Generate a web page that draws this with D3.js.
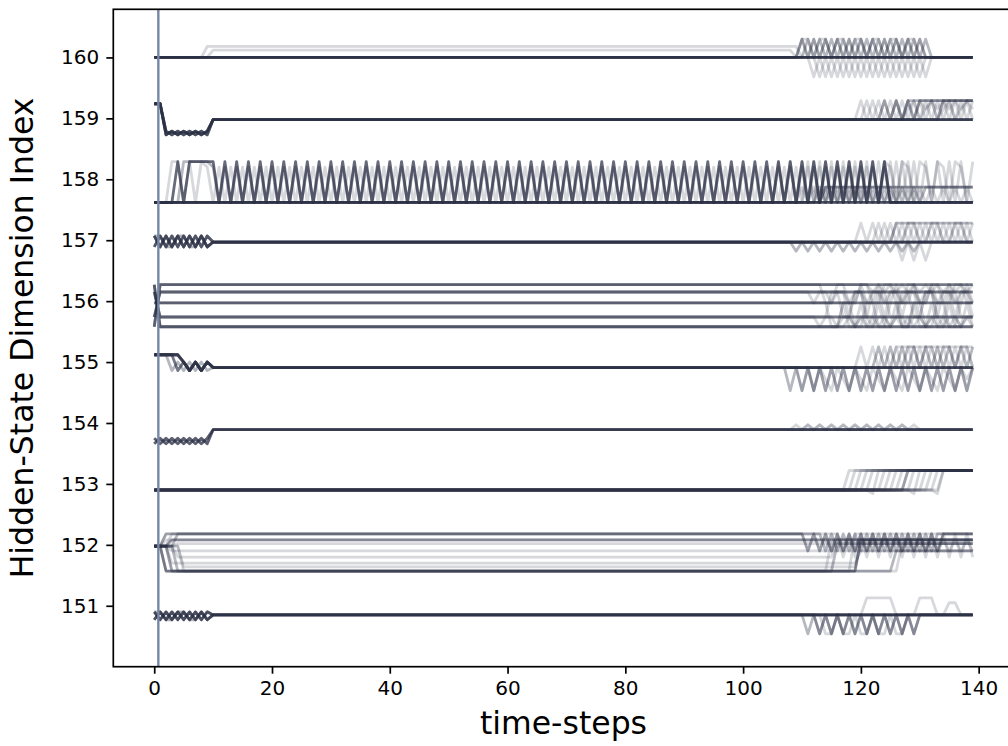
<!DOCTYPE html>
<html>
<head>
<meta charset="utf-8">
<script src="https://cdn.jsdelivr.net/npm/d3@7"></script>
<style>
  body { margin: 0; background: #fff; }
  text { font-family: "DejaVu Sans", sans-serif; }
</style>
</head>
<body>
<div id="chart"></div>
<script>
// ---- data ----
// traces are run-length strings of level letters, one letter per time-step (0..139)
// "ab*5" = "ababababab"; the number in front of each string is how many samples share it
const timeTicks = [0, 20, 40, 60, 80, 100, 120, 140];
const dimTicks = [151, 152, 153, 154, 155, 156, 157, 158, 159, 160];
const markerStep = 0.7;

const levels160 = [160.0, 160.3, 159.68, 160.18, 160.12];
const runs160 = [
  [12, "a*140"],
  [1, "a*9 d*101 a*30"],
  [1, "a*10 e*99 a*31"],
  [3, "a*110 ba*11 a*8"],
  [2, "a*111 ba*10 b a*8"],
  [1, "a*110 bba*7 a*9"],
  [1, "a*112 ca*10 a*8"],
  [1, "a*113 ca*9 c a*8"]
];

const levels159 = [158.98, 159.24, 158.73, 158.79, 159.29, 159.15];
const runs159 = [
  [8, "b*2 cdcdcdcd a*130"],
  [4, "b*2 dcdcdcdc a*130"],
  [1, "b*2 cdcdcdcd a*110 ea*10"],
  [1, "b*2 dcdcdcdc a*111 ea*9 e"],
  [2, "b*2 cdcdcdcd a*118 e*12"],
  [1, "b*2 cdcdcdcd a*116 eaf*4 e*2"],
  [2, "b*2 dcdcdcdc a*114 ea*3 e*10"],
  [1, "b*2 cdcdcdcd a*120 ef*5"],
  [2, "b*2 dcdcdcdc a*124 e*6"]
];

const levels158 = [157.62, 158.29, 157.87, 158.2];
const runs158 = [
  [8, "a*140"],
  [6, "a*4 babbbb ba*58 a*14"],
  [1, "a*3 bbabab da*57 a*17"],
  [2, "a*5 bbbbb da*58 a*14"],
  [2, "a*112 ac*10 c*8"],
  [3, "a*114 c*26"],
  [1, "a*110 ca*15"],
  [1, "a*110 ab*15"],
  [1, "a*106 ba*12 a*10"],
  [1, "a*124 bda*5 a"]
];

const levels157 = [156.97, 157.07, 156.89, 156.82, 157.28, 156.67];
const runs157 = [
  [5, "bc*5 a*130"],
  [5, "cb*5 a*130"],
  [2, "bbcc*2 bc a*130"],
  [2, "bc*5 a*99 da*11 a*9"],
  [1, "cb*5 a*110 ea*10"],
  [1, "bc*5 a*112 ae*9"],
  [2, "cb*5 a*116 e*14"],
  [1, "bc*5 a*118 eeaa*3"],
  [1, "bc*5 a*117 fa*3 a*7"]
];

const levels156 = [156.27, 156.15, 155.97, 155.74, 155.58];
const runs156 = [
  [5, "e a*139"],
  [5, "d b*139"],
  [5, "c*140"],
  [5, "b d*139"],
  [6, "a e*139"],
  [1, "e a*111 aacc*7"],
  [1, "b d*112 ddbb*6 d*3"],
  [1, "c*113 ccee*6 c*3"],
  [1, "a e*114 eec*8 e"],
  [1, "d b*115 bbd*8"],
  [1, "c*118 cca*7 c"],
  [1, "e a*120 ab*9 a"],
  [1, "a e*116 ed*11 e"],
  [1, "d b*109 bbc*10"],
  [1, "b d*110 dde*9 d*2"]
];

const levels155 = [154.91, 155.12, 154.86, 155.0, 154.53, 155.25, 154.72];
const runs155 = [
  [5, "b*4 cdcdcd a*130"],
  [4, "b*5 dcdcd a*130"],
  [2, "b*3 cdcdcdc a*130"],
  [2, "b*5 dcdcd a*98 ea*16"],
  [1, "b*5 dcdcd a*99 ae*15 a"],
  [1, "b*5 dcdcd a*102 eag*9 a"],
  [1, "b*5 dcdcd a*110 fa*10"],
  [2, "b*5 dcdcd a*112 af*9"],
  [1, "b*5 dcdcd a*116 f*14"],
  [1, "b*5 dcdcd a*118 ffa*4"]
];

const levels154 = [153.89, 153.75, 153.66, 153.97];
const runs154 = [
  [6, "bc*5 a*130"],
  [6, "cb*5 a*130"],
  [1, "bc*5 a*99 da*10 a*11"],
  [1, "cb*5 a*100 ad*10 a*10"]
];

const levels153 = [152.9, 153.22, 152.84];
const runs153 = [
  [1, "a*118 b*22"], [1, "a*119 b*21"], [1, "a*120 b*20"], [1, "a*121 b*19"],
  [1, "a*122 b*18"], [1, "a*122 c b*17"], [1, "a*124 b*16"], [1, "a*125 b*15"],
  [1, "a*126 b*14"], [1, "a*127 b*13"], [3, "a*128 b*12"], [1, "a*129 b*11"],
  [1, "a*129 c b*10"], [1, "a*131 b*9"], [1, "a*132 b*8"], [1, "a*133 b*7"],
  [1, "a*134 b*6"], [1, "a*133 c b*6"]
];

const levels152 = [151.98, 152.18, 152.08, 151.57, 151.9, 151.8, 151.7, 151.64, 152.02];
const runs152 = [
  [3, "a*2 b*108 be*12 b*6"],
  [3, "a*3 c*137"],
  [2, "a*4 b*110 eb*10 b*6"],
  [4, "a*2 d*118 c*20"],
  [2, "a*3 d*113 i*24"],
  [2, "a*4 d*122 e*14"],
  [1, "a*5 d*110 c*25"],
  [1, "a*2 d*125 i*13"],
  [1, "a*3 d*116 b*21"],
  [1, "a*3 e*137"],
  [1, "a*4 f*112 c*24"],
  [1, "a*3 g*117 e*20"],
  [1, "a*5 h*115 i*20"],
  [1, "a*4 i*136"],
  [1, "a*2 c*112 ce*13"],
  [1, "a*3 b*113 bf*12"]
];

const levels151 = [150.85, 150.9, 150.77, 150.54, 151.13, 151.05];
const runs151 = [
  [6, "bc*5 a*130"],
  [6, "cb*5 a*130"],
  [2, "bbcc*2 bc a*130"],
  [2, "bc*5 a*101 da*10 a*9"],
  [2, "cb*5 a*102 ad*9 a*10"],
  [1, "bc*5 a*104 dda*5 a*11"],
  [1, "cb*5 a*111 e*5 a*4 e*3 a*2 f*2 a*3"]
];

const dims = [
  { levels: levels151, runs: runs151 },
  { levels: levels152, runs: runs152 },
  { levels: levels153, runs: runs153 },
  { levels: levels154, runs: runs154 },
  { levels: levels155, runs: runs155 },
  { levels: levels156, runs: runs156 },
  { levels: levels157, runs: runs157 },
  { levels: levels158, runs: runs158 },
  { levels: levels159, runs: runs159 },
  { levels: levels160, runs: runs160 }
];

// expand a run-length string into values
function decode(code, levels) {
  const out = [];
  code.trim().split(/\s+/).forEach(tok => {
    const [seq, rep] = tok.split("*");
    const k = rep ? +rep : 1;
    for (let r = 0; r < k; r++) {
      for (const ch of seq) out.push(levels[ch.charCodeAt(0) - 97]);
    }
  });
  return out;
}

// ---- layout ----
const width = 1008, height = 746;
const plotLeft = 113.3, plotRight = 1013.7, plotTop = 9.3, plotBottom = 666.7;
const lineColor = "#2b3045";
const baseAlpha = 0.19;

const svg = d3.select("#chart").append("svg")
  .attr("width", width)
  .attr("height", height)
  .attr("viewBox", [0, 0, width, height]);

const x = d3.scaleLinear().domain([-6.95, 145.95]).range([plotLeft, plotRight]);
const y = d3.scaleLinear().domain([150.0, 160.79]).range([plotBottom, plotTop]);

svg.append("clipPath").attr("id", "plot-clip")
  .append("rect")
  .attr("x", plotLeft).attr("y", plotTop)
  .attr("width", plotRight - plotLeft).attr("height", plotBottom - plotTop);

const line = d3.line()
  .x((v, i) => x(i))
  .y(v => y(v));

const traceGroup = svg.append("g").attr("clip-path", "url(#plot-clip)");

// opacity of n stacked samples
const stackOpacity = n => 1 - Math.pow(1 - baseAlpha, n);

dims.forEach(dim => {
  traceGroup.append("g")
    .selectAll("path")
    .data(dim.runs)
    .join("path")
    .attr("d", d => line(decode(d[1], dim.levels)))
    .attr("fill", "none")
    .attr("stroke", lineColor)
    .attr("stroke-opacity", d => stackOpacity(d[0]))
    .attr("stroke-width", 2.8)
    .attr("stroke-linejoin", "round")
    .attr("stroke-linecap", "butt");
});

// vertical marker
traceGroup.append("line")
  .attr("x1", x(markerStep)).attr("x2", x(markerStep))
  .attr("y1", plotTop).attr("y2", plotBottom)
  .attr("stroke", "#7688a4")
  .attr("stroke-width", 2.4);

// spines
svg.append("rect")
  .attr("x", plotLeft).attr("y", plotTop)
  .attr("width", plotRight - plotLeft).attr("height", plotBottom - plotTop)
  .attr("fill", "none")
  .attr("stroke", "#000")
  .attr("stroke-width", 1.7);

// axes
const xAxis = svg.append("g")
  .attr("transform", `translate(0,${plotBottom})`)
  .call(d3.axisBottom(x).tickValues(timeTicks).tickFormat(d3.format("d")).tickSize(7).tickPadding(7));

const yAxis = svg.append("g")
  .attr("transform", `translate(${plotLeft},0)`)
  .call(d3.axisLeft(y).tickValues(dimTicks).tickFormat(d3.format("d")).tickSize(7).tickPadding(7));

[xAxis, yAxis].forEach(ax => {
  ax.select(".domain").remove();
  ax.selectAll(".tick line").attr("stroke", "#000").attr("stroke-width", 1.7);
  ax.selectAll(".tick text")
    .attr("fill", "#000")
    .style("font-family", "'DejaVu Sans', sans-serif")
    .style("font-size", "20px");
});

// axis labels
svg.append("text")
  .attr("x", (plotLeft + plotRight) / 2)
  .attr("y", 734)
  .attr("text-anchor", "middle")
  .style("font-size", "31.5px")
  .attr("fill", "#000")
  .text("time-steps");

svg.append("text")
  .attr("transform", `translate(33,${(plotTop + plotBottom) / 2}) rotate(-90)`)
  .attr("text-anchor", "middle")
  .style("font-size", "31.5px")
  .attr("fill", "#000")
  .text("Hidden-State Dimension Index");
</script>
</body>
</html>
